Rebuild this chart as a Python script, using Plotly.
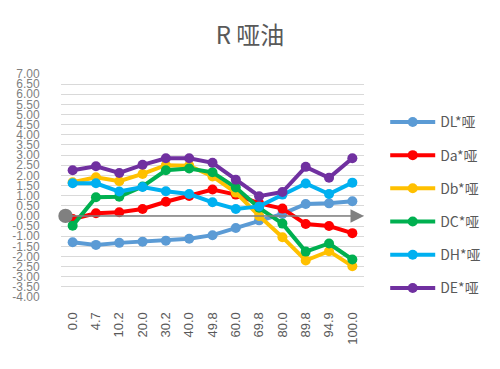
import plotly.graph_objects as go

categories = ["0.0", "4.7", "10.2", "20.0", "30.2", "40.0", "49.8", "60.0", "69.8", "80.0", "89.8", "94.9", "100.0"]
DL = [-1.30, -1.43, -1.33, -1.27, -1.22, -1.13, -0.95, -0.60, -0.22, 0.10, 0.59, 0.62, 0.72]
Da = [-0.15, 0.13, 0.18, 0.34, 0.70, 0.98, 1.30, 1.05, 0.62, 0.36, -0.40, -0.50, -0.85]
Db = [1.66, 1.91, 1.71, 2.07, 2.50, 2.48, 1.95, 1.15, 0.00, -1.05, -2.20, -1.74, -2.48]
DC = [-0.48, 0.92, 0.95, 1.45, 2.25, 2.34, 2.15, 1.40, 0.40, -0.38, -1.76, -1.36, -2.15]
DH = [1.61, 1.61, 1.20, 1.43, 1.22, 1.08, 0.67, 0.34, 0.47, 1.05, 1.60, 1.08, 1.64]
DE = [2.25, 2.45, 2.12, 2.52, 2.84, 2.84, 2.62, 1.78, 0.97, 1.18, 2.42, 1.88, 2.84]

series_names = ["DL*哑", "Da*哑", "Db*哑", "DC*哑", "DH*哑", "DE*哑"]
series_values = [DL, Da, Db, DC, DH, DE]
series_colors = ["#5B9BD5", "#FF0000", "#FFC000", "#00B050", "#00B0F0", "#7030A0"]

ytick_vals = [v / 2 for v in range(-8, 15)]
ytick_text = [f"{v:.2f}" for v in ytick_vals]

fig = go.Figure()
for name, vals, col in zip(series_names, series_values, series_colors):
    fig.add_trace(go.Scatter(
        x=categories, y=vals, name=name, mode="lines+markers",
        line=dict(color=col, width=4),
        marker=dict(color=col, size=10),
        legendgroup=name,
    ))

# zero axis line with circle start and arrow end
fig.add_annotation(
    xref="paper", yref="y", x=1.0, y=0, axref="pixel", ayref="pixel",
    ax=-300, ay=0, text="", showarrow=True,
    arrowhead=2, arrowsize=1.8, arrowwidth=1.5, arrowcolor="#808080",
    arrowside="end+start", startarrowhead=6, startarrowsize=2.4,
)

fig.update_layout(
    width=500, height=369,
    margin=dict(l=53, r=144, t=66, b=80),
    paper_bgcolor="white", plot_bgcolor="white",
    font=dict(family="Noto Sans CJK SC, Arial, sans-serif", color="#595959"),
    title=dict(text="R 哑油", x=0.484, xref="container", xanchor="center",
               y=0.925, yref="container", yanchor="middle",
               font=dict(size=24, color="#595959")),
    showlegend=True,
    legend=dict(x=1.07, y=0.855, yanchor="top", xanchor="left",
                font=dict(size=14, color="#595959"), itemwidth=45,
                tracegroupgap=12, bgcolor="rgba(0,0,0,0)"),
    xaxis=dict(type="category", range=[-0.5, 12.5], showgrid=False,
               tickangle=-90, tickfont=dict(size=13, color="#595959",
               family="Liberation Sans, Arial"),
               ticks="outside", ticklen=9, tickcolor="rgba(0,0,0,0)",
               showline=False, zeroline=False, automargin=False),
    yaxis=dict(range=[-4, 7], tickmode="array", tickvals=ytick_vals,
               ticktext=ytick_text, showgrid=True, gridcolor="#D9D9D9",
               gridwidth=1, zeroline=False, showline=False,
               tickfont=dict(size=12, color="#7F7F7F", family="Liberation Sans, Arial"),
               ticks="outside", ticklen=18, tickcolor="rgba(0,0,0,0)",
               automargin=False),
)

fig.write_html("out.html")
